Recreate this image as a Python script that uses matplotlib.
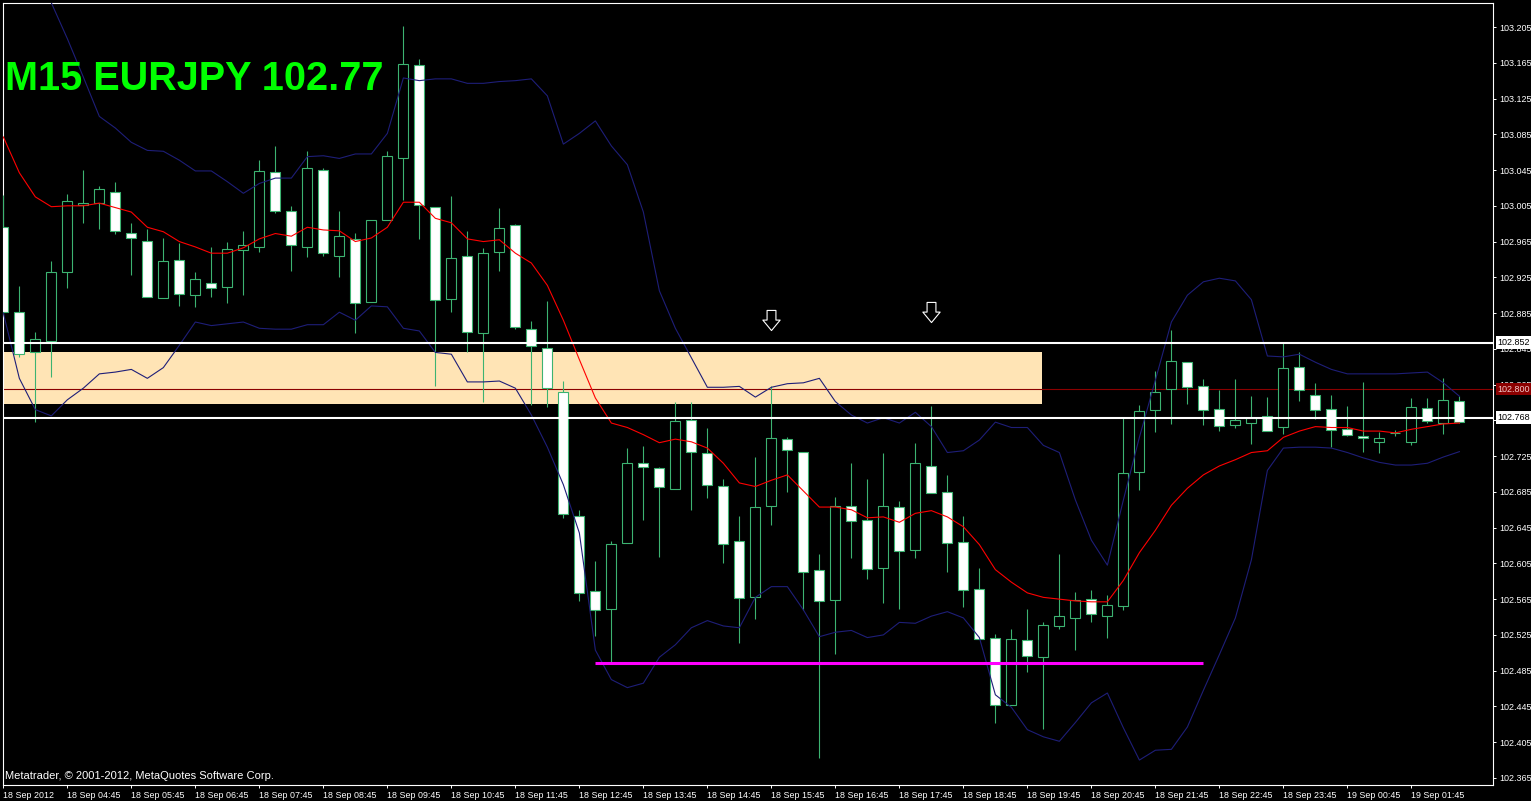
import numpy as np
import matplotlib
matplotlib.use('Agg')
import matplotlib.pyplot as plt
from matplotlib.patches import Rectangle
from matplotlib.path import Path
from matplotlib.transforms import blended_transform_factory

# M15 EURJPY bars, 18 Sep 03:45 .. 19 Sep 02:30 (one entry per bar)
opens = [102.981, 102.886, 102.841, 102.854, 102.931, 103.006, 103.008, 103.020, 102.975, 102.966,
         102.902, 102.944, 102.905, 102.919, 102.914, 102.956, 102.959, 103.043, 102.999, 102.959,
         103.045, 102.949, 102.968, 102.897, 102.989, 103.058, 103.163, 103.004, 102.901, 102.949,
         102.863, 102.953, 102.984, 102.867, 102.846, 102.797, 102.658, 102.574, 102.554, 102.628,
         102.717, 102.712, 102.688, 102.765, 102.729, 102.692, 102.630, 102.567, 102.669, 102.744,
         102.730, 102.598, 102.564, 102.669, 102.654, 102.600, 102.668, 102.620, 102.714, 102.685,
         102.629, 102.576, 102.522, 102.447, 102.519, 102.500, 102.535, 102.544, 102.565, 102.546,
         102.557, 102.707, 102.777, 102.800, 102.830, 102.803, 102.778, 102.760, 102.762, 102.770,
         102.758, 102.825, 102.793, 102.778, 102.755, 102.748, 102.741, 102.751, 102.741, 102.779,
         102.762, 102.787]
highs = [103.017, 102.915, 102.864, 102.943, 103.018, 103.045, 103.027, 103.032, 102.986, 102.979,
         102.969, 102.963, 102.931, 102.959, 102.965, 102.977, 103.056, 103.072, 103.005, 103.066,
         103.047, 102.999, 102.975, 102.989, 103.066, 103.206, 103.169, 103.004, 103.016, 102.977,
         102.958, 103.003, 102.985, 102.876, 102.899, 102.809, 102.665, 102.608, 102.630, 102.734,
         102.736, 102.713, 102.786, 102.786, 102.757, 102.699, 102.658, 102.724, 102.803, 102.746,
         102.730, 102.616, 102.679, 102.717, 102.699, 102.729, 102.675, 102.740, 102.781, 102.704,
         102.658, 102.600, 102.526, 102.532, 102.554, 102.539, 102.616, 102.573, 102.575, 102.570,
         102.768, 102.782, 102.820, 102.866, 102.830, 102.811, 102.799, 102.811, 102.792, 102.791,
         102.853, 102.841, 102.807, 102.793, 102.781, 102.808, 102.752, 102.754, 102.790, 102.790,
         102.812, 102.792]
lows = [102.885, 102.836, 102.763, 102.813, 102.913, 102.986, 102.979, 102.974, 102.928, 102.903,
        102.902, 102.893, 102.892, 102.903, 102.896, 102.905, 102.953, 102.997, 102.932, 102.948,
        102.949, 102.925, 102.863, 102.897, 102.989, 103.012, 102.968, 102.803, 102.886, 102.841,
        102.786, 102.932, 102.867, 102.782, 102.780, 102.656, 102.563, 102.524, 102.494, 102.628,
        102.654, 102.612, 102.688, 102.665, 102.678, 102.605, 102.516, 102.543, 102.648, 102.685,
        102.553, 102.387, 102.504, 102.611, 102.588, 102.561, 102.554, 102.611, 102.684, 102.595,
        102.556, 102.520, 102.427, 102.447, 102.483, 102.420, 102.532, 102.508, 102.539, 102.522,
        102.553, 102.687, 102.752, 102.761, 102.783, 102.760, 102.753, 102.756, 102.739, 102.753,
        102.750, 102.787, 102.767, 102.735, 102.748, 102.730, 102.729, 102.748, 102.737, 102.762,
        102.750, 102.762]
closes = [102.886, 102.839, 102.856, 102.931, 103.010, 103.008, 103.024, 102.977, 102.969, 102.903,
          102.943, 102.906, 102.923, 102.913, 102.957, 102.961, 103.044, 102.999, 102.961, 103.047,
          102.952, 102.971, 102.896, 102.989, 103.061, 103.164, 103.006, 102.900, 102.947, 102.864,
          102.952, 102.980, 102.869, 102.848, 102.801, 102.660, 102.572, 102.553, 102.627, 102.717,
          102.713, 102.691, 102.764, 102.730, 102.693, 102.627, 102.566, 102.668, 102.745, 102.732,
          102.595, 102.563, 102.669, 102.652, 102.599, 102.669, 102.619, 102.717, 102.684, 102.628,
          102.575, 102.520, 102.447, 102.520, 102.501, 102.536, 102.546, 102.564, 102.548, 102.558,
          102.706, 102.776, 102.797, 102.831, 102.802, 102.777, 102.759, 102.765, 102.768, 102.753,
          102.824, 102.799, 102.777, 102.754, 102.749, 102.745, 102.745, 102.751, 102.780, 102.764,
          102.788, 102.763]

nan = np.nan
bb_upper = [nan, nan, nan, 103.232, 103.192, 103.149, 103.105, 103.092, 103.076, 103.067,
            103.066, 103.056, 103.044, 103.044, 103.032, 103.019, 103.030, 103.036, 103.036, 103.060,
            103.061, 103.058, 103.063, 103.063, 103.086, 103.148, 103.145, 103.147, 103.147, 103.142,
            103.142, 103.144, 103.145, 103.147, 103.128, 103.074, 103.086, 103.100, 103.072, 103.051,
            102.998, 102.910, 102.868, 102.835, 102.802, 102.802, 102.803, 102.791, 102.802, 102.806,
            102.807, 102.812, 102.786, 102.771, 102.762, 102.768, 102.762, 102.774, 102.758, 102.729,
            102.731, 102.743, 102.763, 102.757, 102.757, 102.737, 102.729, 102.676, 102.631, 102.603,
            102.676, 102.746, 102.810, 102.875, 102.905, 102.920, 102.924, 102.921, 102.900, 102.837,
            102.836, 102.839, 102.830, 102.822, 102.817, 102.817, 102.817, 102.817, 102.818, 102.819,
            102.807, 102.792]
bb_lower = [102.885, 102.812, 102.777, 102.770, 102.788, 102.801, 102.817, 102.819, 102.822, 102.812,
            102.824, 102.849, 102.875, 102.871, 102.873, 102.875, 102.868, 102.867, 102.867, 102.872,
            102.872, 102.886, 102.877, 102.893, 102.892, 102.868, 102.865, 102.841, 102.839, 102.808,
            102.808, 102.809, 102.801, 102.771, 102.735, 102.693, 102.639, 102.508, 102.475, 102.466,
            102.471, 102.500, 102.514, 102.533, 102.541, 102.535, 102.533, 102.567, 102.579, 102.579,
            102.553, 102.523, 102.528, 102.530, 102.522, 102.525, 102.539, 102.538, 102.546, 102.551,
            102.544, 102.522, 102.458, 102.444, 102.419, 102.411, 102.406, 102.427, 102.449, 102.460,
            102.421, 102.385, 102.396, 102.397, 102.422, 102.463, 102.503, 102.544, 102.609, 102.709,
            102.734, 102.735, 102.735, 102.734, 102.729, 102.723, 102.718, 102.715, 102.715, 102.717,
            102.724, 102.730]
ma_red = [103.082, 103.042, 103.015, 103.004, 103.005, 103.005, 103.008, 103.003, 102.998, 102.981,
          102.976, 102.965, 102.959, 102.952, 102.952, 102.958, 102.968, 102.974, 102.971, 102.981,
          102.978, 102.977, 102.965, 102.969, 102.981, 103.009, 103.009, 102.991, 102.986, 102.968,
          102.965, 102.967, 102.952, 102.941, 102.916, 102.877, 102.833, 102.790, 102.762, 102.757,
          102.749, 102.740, 102.744, 102.741, 102.734, 102.717, 102.695, 102.691, 102.698, 102.704,
          102.686, 102.668, 102.668, 102.665, 102.656, 102.657, 102.651, 102.661, 102.664, 102.657,
          102.646, 102.626, 102.598, 102.584, 102.572, 102.567, 102.565, 102.563, 102.562, 102.562,
          102.586, 102.617, 102.642, 102.670, 102.689, 102.704, 102.714, 102.721, 102.729, 102.731,
          102.746, 102.753, 102.758, 102.757, 102.757, 102.753, 102.753, 102.751, 102.755, 102.758,
          102.761, 102.762]

# axis labels
price_ticks = [103.205, 103.165, 103.125, 103.085, 103.045, 103.005, 102.965, 102.925, 102.885,
               102.845, 102.805, 102.765, 102.725, 102.685, 102.645, 102.605, 102.565, 102.525,
               102.485, 102.445, 102.405, 102.365]
time_tick_idx = [0, 4, 8, 12, 16, 20, 24, 28, 32, 36, 40, 44, 48, 52, 56, 60, 64, 68, 72, 76, 80, 84, 88]
time_labels = ['18 Sep 2012', '18 Sep 04:45', '18 Sep 05:45', '18 Sep 06:45', '18 Sep 07:45',
               '18 Sep 08:45', '18 Sep 09:45', '18 Sep 10:45', '18 Sep 11:45', '18 Sep 12:45',
               '18 Sep 13:45', '18 Sep 14:45', '18 Sep 15:45', '18 Sep 16:45', '18 Sep 17:45',
               '18 Sep 18:45', '18 Sep 19:45', '18 Sep 20:45', '18 Sep 21:45', '18 Sep 22:45',
               '18 Sep 23:45', '19 Sep 00:45', '19 Sep 01:45']

# drawn objects
white_levels = [102.852, 102.768]
pivot_level = 102.800
zone_low, zone_high, zone_end = 102.783, 102.841, 64.92
support_level, support_from, support_to = 102.494, 37, 75
arrow_idx = [48, 58]
arrow_price = [102.877, 102.886]

GREEN = '#3CB371'
BAND = '#1E1E78'
FONT = 'Liberation Sans'

fig = plt.figure(figsize=(15.31, 8.01), dpi=100, facecolor='black')
ax = fig.add_axes([2.7 / 1531, 16 / 801, (1493 - 2.7) / 1531, (785 - 2.7) / 801])
ax.set_facecolor('black')
ax.set_xlim(-0.04, 93.1)
ax.set_ylim(102.3571, 103.2322)

# support/resistance zone
ax.add_patch(Rectangle((-2, zone_low), zone_end + 2, zone_high - zone_low,
                       facecolor='#FFE4B5', edgecolor='none', zorder=1))
ax.axhline(pivot_level, color='#8B0000', lw=0.8, zorder=2)

# candles
bw = 0.62
for i, (o, h, l, c) in enumerate(zip(opens, highs, lows, closes)):
    ax.plot([i, i], [l, h], color=GREEN, lw=0.8, zorder=3, solid_capstyle='butt')
    ax.add_patch(Rectangle((i - bw / 2, min(o, c)), bw, abs(c - o),
                           facecolor='black' if c >= o else 'white',
                           edgecolor=GREEN, lw=0.8, zorder=4))

x = np.arange(len(opens))
ax.plot(x, bb_upper, color=BAND, lw=0.8, zorder=5)
ax.plot(x, bb_lower, color=BAND, lw=0.8, zorder=5)
ax.plot(x, ma_red, color='#FF0000', lw=0.8, zorder=5)

for lv in white_levels:
    ax.axhline(lv, color='white', lw=1.5, zorder=6)
ax.plot([support_from, support_to], [support_level, support_level],
        color='#FF00FF', lw=2.2, zorder=6, solid_capstyle='butt')

# hollow down arrows
arrow_path = Path([(-0.22, 0.5), (0.22, 0.5), (0.22, 0.02), (0.43, 0.02), (0.0, -0.5),
                   (-0.43, 0.02), (-0.22, 0.02), (-0.22, 0.5)],
                  [Path.MOVETO] + [Path.LINETO] * 6 + [Path.CLOSEPOLY])
ax.plot(arrow_idx, arrow_price, ls='none', marker=arrow_path, markersize=14.5,
        markerfacecolor='black', markeredgecolor='white', markeredgewidth=0.8, zorder=7)

# axes styling
for sp in ax.spines.values():
    sp.set_color('white')
    sp.set_linewidth(0.8)
ax.yaxis.tick_right()
ax.set_yticks(price_ticks)
ax.set_yticklabels([f'{p:.3f}' for p in price_ticks])
ax.set_xticks(time_tick_idx)
ax.set_xticklabels(time_labels, ha='left')
ax.tick_params(axis='y', colors='white', direction='out', length=2.5, width=0.7, pad=2,
               labelsize=6.5)
ax.tick_params(axis='x', colors='white', direction='out', length=2.5, width=0.7, pad=1.5,
               labelsize=6.4)
for lab in ax.get_xticklabels() + ax.get_yticklabels():
    lab.set_fontfamily(FONT)

# price boxes on the right scale
trans = blended_transform_factory(ax.transAxes, ax.transData)
for lv in white_levels:
    ax.text(1.003, lv, f'{lv:.3f}', transform=trans, ha='left', va='center', fontsize=6.5,
            family=FONT, color='black', clip_on=False, zorder=10,
            bbox=dict(boxstyle='square,pad=0.2', facecolor='white', edgecolor='none'))
ax.text(1.003, pivot_level, f'{pivot_level:.3f}', transform=trans, ha='left', va='center',
        fontsize=6.5, family=FONT, color='#F0C8C8', clip_on=False, zorder=10,
        bbox=dict(boxstyle='square,pad=0.2', facecolor='#8B0000', edgecolor='none'))

fig.text(5 / 1531, (801 - 90) / 801, 'M15 EURJPY 102.77', color='#00FF00', fontsize=28.5,
         fontweight='bold', family=FONT, ha='left', va='baseline')
fig.text(5 / 1531, (801 - 776) / 801, 'Metatrader, \u00a9 2001-2012, MetaQuotes Software Corp.',
         color='white', fontsize=8, family=FONT, ha='left', va='center')

fig.savefig('out.png', dpi=100, facecolor='black')
